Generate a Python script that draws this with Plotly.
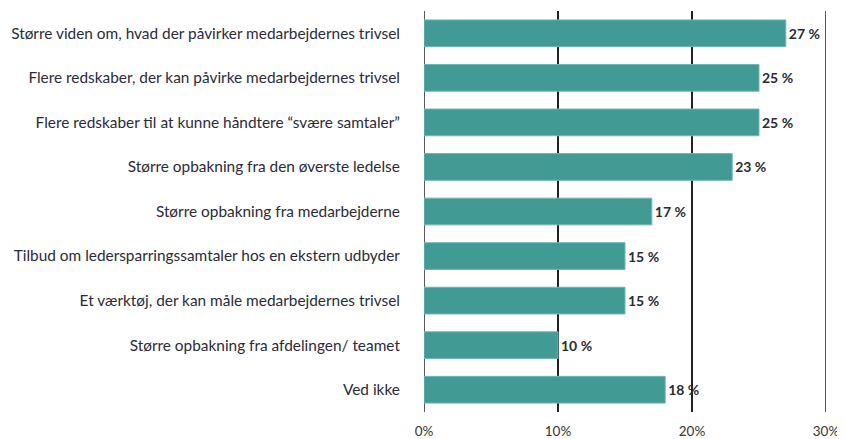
import plotly.graph_objects as go

categories = [
    "Større viden om, hvad der påvirker medarbejdernes trivsel",
    "Flere redskaber, der kan påvirke medarbejdernes trivsel",
    "Flere redskaber til at kunne håndtere \u201csvære samtaler\u201d",
    "Større opbakning fra den øverste ledelse",
    "Større opbakning fra medarbejderne",
    "Tilbud om ledersparringssamtaler hos en ekstern udbyder",
    "Et værktøj, der kan måle medarbejdernes trivsel",
    "Større opbakning fra afdelingen/ teamet",
    "Ved ikke",
]
values = [27, 25, 25, 23, 17, 15, 15, 10, 18]
tick_vals = [0, 10, 20, 30]
tick_text = ["0%", "10%", "20%", "30%"]

fig = go.Figure(
    go.Bar(
        x=values,
        y=categories,
        orientation="h",
        marker=dict(color="#419a93", line=dict(color="#6fb8b1", width=1)),
        text=[f"{v} %" for v in values],
        textposition="outside",
        textfont=dict(family="Lato", size=14, color="#2b2b33", weight="bold"),
        cliponaxis=False,
        width=0.6,
    )
)

fig.update_layout(
    width=845,
    height=439,
    margin=dict(l=416, r=27, t=3, b=35),
    plot_bgcolor="white",
    paper_bgcolor="white",
    font=dict(family="Lato", size=15.4, color="#2b2b3a"),
    showlegend=False,
    xaxis=dict(
        range=[0, 30],
        tickvals=tick_vals,
        ticktext=tick_text,
        showgrid=True,
        gridcolor="#222222",
        gridwidth=1.5,
        zeroline=False,
        showline=False,
        ticks="outside",
        ticklen=7,
        tickcolor="rgba(0,0,0,0)",
        tickfont=dict(size=13.5, color="#3a3330"),
        automargin=False,
    ),
    yaxis=dict(
        autorange="reversed",
        showgrid=False,
        zeroline=False,
        ticks="outside",
        ticklen=20,
        tickcolor="rgba(0,0,0,0)",
        automargin=False,
    ),
    shapes=[
        dict(type="line", xref="x", yref="paper", x0=0, x1=0, y0=0, y1=1,
             line=dict(color="#222222", width=1.5), layer="below"),
        dict(type="line", xref="x", yref="paper", x0=30, x1=30, y0=0, y1=1,
             line=dict(color="#222222", width=1.5), layer="below"),
    ],
)

fig.write_html("out.html")
